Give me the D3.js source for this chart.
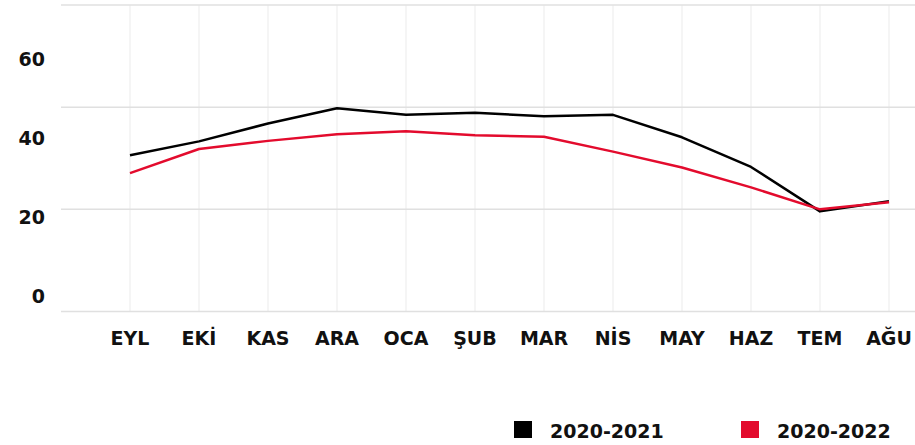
<!DOCTYPE html>
<html>
<head>
<meta charset="utf-8">
<script src="https://cdn.jsdelivr.net/npm/d3@7"></script>
<style>
  html, body { margin: 0; padding: 0; background: #fff; }
  svg { display: block; }
  text { font-family: "DejaVu Sans", sans-serif; font-weight: bold; fill: #111; }
</style>
</head>
<body>
<svg id="chart" width="915" height="445"></svg>
<script>
// Months (Eylül → Ağustos)
const months = ["EYL", "EKİ", "KAS", "ARA", "OCA", "ŞUB", "MAR", "NİS", "MAY", "HAZ", "TEM", "AĞU"];
const series2021 = [30.6, 33.3, 36.8, 39.8, 38.5, 38.9, 38.2, 38.5, 34.1, 28.3, 19.6, 21.6];
const series2022 = [27.1, 31.8, 33.4, 34.7, 35.3, 34.5, 34.2, 31.3, 28.2, 24.3, 20.0, 21.4];
const yTicks = [0, 20, 40, 60];
const seriesNames = ["2020-2021", "2020-2022"];
const seriesColors = ["#000000", "#e30b2d"];

const svg = d3.select("#chart");
const plotLeft = 61, plotRight = 915, plotTop = 5, plotBottom = 311.5;

// x: month slots, first point one slot in from the left edge
const x = d3.scalePoint().domain(["", ...months]).range([plotLeft, plotLeft + 69 * 12]);
const y = d3.scaleLinear().domain([0, 60]).range([plotBottom, plotTop]);
// tick labels sit on their own evenly spaced ladder
const yLabel = d3.scaleLinear().domain([0, 60]).range([303, 66]);

// vertical gridlines
svg.append("g").selectAll("line").data(months).join("line")
  .attr("x1", d => x(d)).attr("x2", d => x(d))
  .attr("y1", plotTop).attr("y2", plotBottom)
  .attr("stroke", "#ebebeb").attr("stroke-width", 1);

// horizontal gridlines
svg.append("g").selectAll("line").data(yTicks).join("line")
  .attr("x1", plotLeft).attr("x2", plotRight)
  .attr("y1", d => y(d)).attr("y2", d => y(d))
  .attr("stroke", "#e0e0e0").attr("stroke-width", 1.5);

// y labels
svg.append("g").selectAll("text").data(yTicks).join("text")
  .attr("x", 45).attr("y", d => yLabel(d))
  .attr("text-anchor", "end")
  .attr("font-size", 19)
  .text(d => d);

// x labels
svg.append("g").selectAll("text").data(months).join("text")
  .attr("x", d => x(d)).attr("y", 345)
  .attr("text-anchor", "middle")
  .attr("font-size", 19)
  .text(d => d);

// lines
const line = d3.line().x((d, i) => x(months[i])).y(d => y(d));
[series2021, series2022].forEach((s, k) => {
  svg.append("path").datum(s)
    .attr("fill", "none")
    .attr("stroke", seriesColors[k])
    .attr("stroke-width", 2.5)
    .attr("stroke-linejoin", "round")
    .attr("d", line);
});

// legend
const legendX = [514, 741];
const lg = svg.append("g").selectAll("g").data(seriesNames).join("g")
  .attr("transform", (d, i) => `translate(${legendX[i]},421)`);
lg.append("rect").attr("width", 18).attr("height", 17)
  .attr("fill", (d, i) => seriesColors[i]);
lg.append("text").attr("x", 36).attr("y", 17)
  .attr("font-size", 19).text(d => d);
</script>
</body>
</html>
